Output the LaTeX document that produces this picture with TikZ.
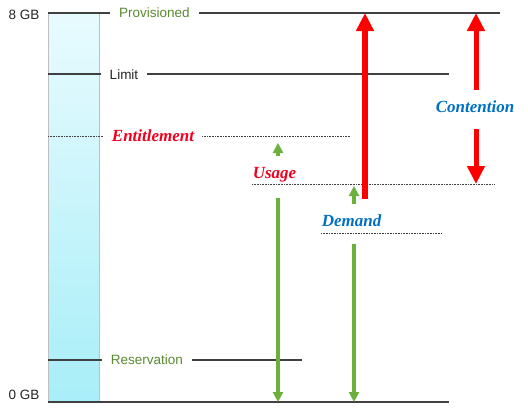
\documentclass[tikz,border=0pt]{standalone}
\usepackage{fontspec}
\setmainfont{Liberation Serif}
\setsansfont{Liberation Sans}
\usetikzlibrary{arrows.meta}
\definecolor{lblgreen}{RGB}{88,138,48}
\definecolor{arrgreen}{RGB}{108,176,62}
\definecolor{myblue}{RGB}{0,112,192}
\definecolor{myred}{RGB}{238,0,30}
\definecolor{linegray}{RGB}{64,64,64}
\definecolor{bartop}{RGB}{232,251,254}
\definecolor{barbot}{RGB}{168,238,248}
\tikzset{
  hline/.style={draw=linegray, line width=1.4pt},
  dotline/.style={draw=linegray, line width=1pt, dash pattern=on 0.8pt off 0.8pt},
  sanslab/.style={font=\sffamily\fontsize{13.5}{15}\selectfont, inner xsep=9pt, inner ysep=0pt},
  seriflab/.style={font=\rmfamily\bfseries\itshape\fontsize{17}{19}\selectfont, inner xsep=8pt, inner ysep=0pt},
  bigred/.style={draw=red, line width=6pt, -{Triangle[width=17pt,length=18pt]}},
  contarr/.style={draw=red, line width=5pt, -{Triangle[width=17pt,length=18pt]}},
  greenarr/.style={draw=arrgreen, line width=4pt, -{Triangle[width=10pt,length=10pt]}},
}
\begin{document}
\begin{tikzpicture}[x=1pt,y=-1pt]
\useasboundingbox (0,0) rectangle (528,416);
% bar
\node[draw=black!25, line width=0.8pt, top color=bartop, bottom color=barbot,
  minimum width=51pt, minimum height=389pt, inner sep=0pt, anchor=north west] (bar) at (48,13) {};
% GB labels
\node[sanslab, inner xsep=0pt, text=black!85] (gb8) at (24,15) {8 GB};
\node[sanslab, inner xsep=0pt, text=black!85] (gb0) at (24,395) {0 GB};
% Provisioned
\node[sanslab, text=lblgreen] (prov) at (154.5,13) {Provisioned};
\coordinate (provL) at (48,13);
\coordinate (provR) at (500,13);
\draw[hline] (provL) -- (prov.west);
\draw[hline] (prov.east) -- (provR);
% Limit
\node[sanslab, text=black!85] (limit) at (124,75) {Limit};
\coordinate (limL) at (48,74);
\coordinate (limR) at (449,74);
\draw[hline] (limL) -- (limit.west |- limL);
\draw[hline] (limit.east |- limL) -- (limR);
% Entitlement
\node[seriflab, text=myred] (ent) at (153,136) {Entitlement};
\coordinate (entL) at (48,136);
\coordinate (entR) at (351,136);
\draw[dotline] (entL) -- (ent.west |- entL);
\draw[dotline] (ent.east |- entL) -- (entR);
% Reservation
\node[sanslab, text=lblgreen] (res) at (147,360) {Reservation};
\coordinate (resL) at (48,360);
\coordinate (resR) at (302,360);
\draw[hline] (resL) -- (res.west |- resL);
\draw[hline] (res.east |- resL) -- (resR);
% 0 GB line
\coordinate (zeroL) at (48,402);
\coordinate (zeroR) at (449,402);
\draw[hline] (zeroL) -- (zeroR);
% Usage
\node[seriflab, text=myred] (usage) at (274.5,175) {Usage};
\coordinate (useL) at (252,184);
\coordinate (useR) at (494,184);
\draw[dotline] (useL) -- (useR);
% Demand
\node[seriflab, text=myblue] (demand) at (351.5,221) {Demand};
\coordinate (demL) at (321,233);
\coordinate (demR) at (442,233);
\draw[dotline] (demL) -- (demR);
% Contention
\node[seriflab, text=myblue] (cont) at (475,107) {Contention};
% red big arrow
\coordinate (redB) at (365,199);
\coordinate (redT) at (365,13);
\draw[bigred] (redB) -- (redT);
% contention arrows
\coordinate (cuB) at (476,90);
\coordinate (cuT) at (476,13);
\coordinate (cdT) at (476,129);
\coordinate (cdB) at (476,184);
\draw[contarr] (cuB) -- (cuT);
\draw[contarr] (cdT) -- (cdB);
% green arrows
\coordinate (g1s) at (278,156);
\coordinate (g1t) at (278,143);
\coordinate (g1a) at (278,198);
\coordinate (g1b) at (278,402);
\draw[greenarr] (g1s) -- (g1t);
\draw[greenarr] (g1a) -- (g1b);
\coordinate (g2s) at (354,204);
\coordinate (g2t) at (354,186);
\coordinate (g2a) at (354,244);
\coordinate (g2b) at (354,402);
\draw[greenarr] (g2s) -- (g2t);
\draw[greenarr] (g2a) -- (g2b);
\end{tikzpicture}
\end{document}
